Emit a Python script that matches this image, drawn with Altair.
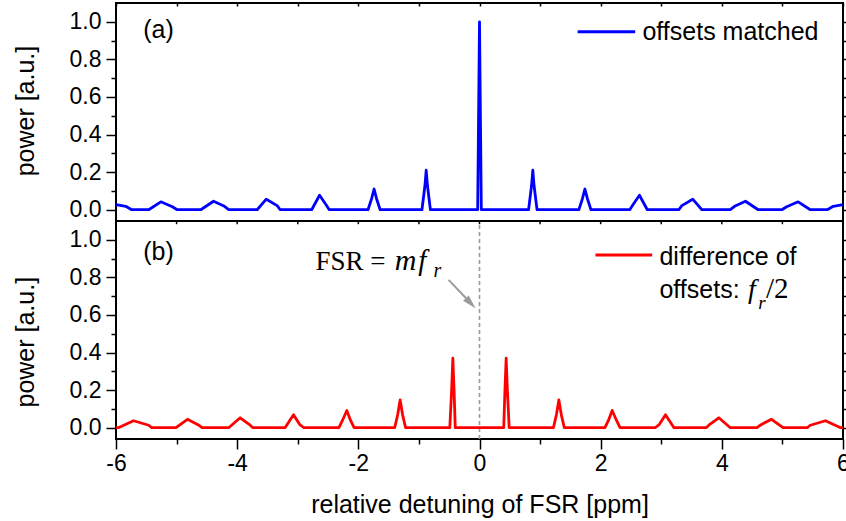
import altair as alt
import pandas as pd

# ---------------- data ----------------
# panel (a): offsets matched
xa = [-6.00, -5.84, -5.74, -5.46, -5.26, -5.07, -4.99, -4.60, -4.39, -4.22, -4.14,
      -3.67, -3.52, -3.34, -3.29, -2.77, -2.64, -2.53, -2.48, -1.84, -1.78, -1.74,
      -1.70, -1.64, -0.95, -0.90, -0.88, -0.86, -0.81, -0.03, 0.00,
      0.03, 0.81, 0.86, 0.88, 0.90, 0.95, 1.64, 1.70, 1.74, 1.78, 1.84,
      2.48, 2.53, 2.64, 2.77, 3.29, 3.34, 3.52, 3.67, 4.14, 4.22, 4.39,
      4.60, 4.99, 5.07, 5.26, 5.46, 5.74, 5.84, 6.00]
ya = [0.027, 0.018, 0.0, 0.0, 0.042, 0.016, 0.0, 0.0, 0.045, 0.020, 0.0,
      0.0, 0.056, 0.022, 0.0, 0.0, 0.077, 0.025, 0.0, 0.0, 0.06, 0.11,
      0.06, 0.0, 0.0, 0.13, 0.21, 0.13, 0.0, 0.0, 1.00,
      0.0, 0.0, 0.13, 0.21, 0.13, 0.0, 0.0, 0.06, 0.11, 0.06, 0.0,
      0.0, 0.025, 0.077, 0.0, 0.0, 0.022, 0.056, 0.0, 0.0, 0.020, 0.045,
      0.0, 0.0, 0.016, 0.042, 0.0, 0.0, 0.018, 0.027]

# panel (b): difference of offsets f_r/2
xb = [-6.00, -5.96, -5.71, -5.46, -5.41, -5.01, -4.82, -4.64, -4.58, -4.14, -3.95,
      -3.79, -3.74, -3.21, -3.07, -2.97, -2.90, -2.32, -2.26, -2.19, -2.13, -2.07,
      -1.40, -1.35, -1.31, -1.27, -1.22, -0.49, -0.46, -0.44, -0.42, -0.40,
      0.40, 0.42, 0.44, 0.46, 0.49, 1.22, 1.27, 1.31, 1.35, 1.40,
      2.07, 2.13, 2.19, 2.26, 2.32, 2.90, 2.97, 3.07, 3.21, 3.74,
      3.79, 3.95, 4.14, 4.58, 4.64, 4.82, 5.01, 5.41, 5.46, 5.71, 5.96, 6.00]
yb = [0.0, 0.0, 0.037, 0.013, 0.0, 0.0, 0.045, 0.015, 0.0, 0.0, 0.053,
      0.015, 0.0, 0.0, 0.069, 0.018, 0.0, 0.0, 0.04, 0.092, 0.04, 0.0,
      0.0, 0.07, 0.148, 0.07, 0.0, 0.0, 0.20, 0.37, 0.20, 0.0,
      0.0, 0.20, 0.37, 0.20, 0.0, 0.0, 0.07, 0.148, 0.07, 0.0,
      0.0, 0.04, 0.092, 0.04, 0.0, 0.0, 0.018, 0.069, 0.0, 0.0,
      0.015, 0.053, 0.0, 0.0, 0.015, 0.045, 0.0, 0.0, 0.013, 0.037, 0.0, 0.0]

x_ticks = list(range(-6, 7))
y_ticks = [i / 10 for i in range(11)]

legend_a = "offsets matched"
legend_b1 = "difference of"
legend_b2 = "offsets: "
x_title = "relative detuning of FSR [ppm]"
y_title = "power [a.u.]"

# ---------------- layout / styling ----------------
FONT = "Liberation Sans"
SERIF = "Liberation Serif"
BLUE = "#0000ff"
RED = "#ff0000"
GREY = "#9a9a9a"

Y_LO, Y_HI = -0.06, 1.10          # each panel's own y range
OFF = Y_HI - Y_LO                 # panel (a) is stacked above panel (b)

xs = alt.Scale(domain=[-6, 6], nice=False, zero=False)
ys = alt.Scale(domain=[Y_LO, Y_HI + OFF], nice=False, zero=False)

all_y_ticks = y_ticks + [v + OFF for v in y_ticks]
local = f"(datum.value > {Y_HI - 0.005} ? datum.value - {OFF} : datum.value)"
y_major = f"round({local}*10) % 2 == 0"
x_major = "datum.value % 2 == 0"

left_axis = alt.Axis(
    title=None, values=all_y_ticks, orient="left",
    labelExpr=f"{y_major} ? format({local}, '.1f') : ''",
    tickSize={"condition": {"test": y_major, "value": 10}, "value": 5},
    domain=False, grid=False, labelOverlap=False,
    labelFont=FONT, labelFontSize=23, labelColor="black", labelPadding=5,
    tickColor="black", tickWidth=1.5)

right_axis = alt.Axis(title=None, values=all_y_ticks, orient="right", labels=False,
                      tickSize=4, domain=False, grid=False,
                      tickColor="black", tickWidth=1.5)

top_axis = alt.Axis(title=None, values=x_ticks, orient="top", labels=False,
                    tickSize=3, offset=-3, domain=False, grid=False,
                    tickColor="black", tickWidth=1.5)

bottom_axis = alt.Axis(
    title=x_title, values=x_ticks, orient="bottom",
    labelExpr=f"{x_major} ? toString(datum.value) : ''",
    tickSize={"condition": {"test": x_major, "value": 10}, "value": 5},
    domain=False, grid=False, labelOverlap=False, labelFlush=False,
    labelFont=FONT, labelFontSize=23, labelColor="black", labelPadding=3,
    titleFont=FONT, titleFontSize=25, titleFontWeight="normal", titleColor="black",
    titlePadding=17, tickColor="black", tickWidth=1.5)


def place(chart, top, xaxis=None, yaxis=None):
    """Encode x/y; charts of the upper panel are shifted up by one panel height."""
    if top:
        chart = chart.transform_calculate(yp=f"datum.y + {OFF}")
    else:
        chart = chart.transform_calculate(yp="datum.y")
    return chart.encode(x=alt.X("x:Q", scale=xs, axis=xaxis),
                        y=alt.Y("yp:Q", scale=ys, axis=yaxis))


def texts(top, xv, yv, tv, **kw):
    df = pd.DataFrame({"x": xv, "y": yv, "t": tv})
    base = dict(align="left", baseline="alphabetic", color="black")
    base.update(kw)
    return place(alt.Chart(df).mark_text(**base), top).encode(text="t:N")


def legend_line(top, x1, x2, y, color):
    df = pd.DataFrame({"x": [x1], "x2": [x2], "y": [y]})
    return place(alt.Chart(df).mark_rule(color=color, strokeWidth=2.8), top).encode(x2="x2:Q")


# frame helper layer carrying the top and right axes
frame = place(alt.Chart(pd.DataFrame({"x": xb, "y": yb})).mark_point(opacity=0),
              False, top_axis, right_axis)

# ---------------- panel (a) ----------------
line_a = place(alt.Chart(pd.DataFrame({"x": xa, "y": ya})).mark_line(
    color=BLUE, strokeWidth=2.8, strokeJoin="round"), True)

# ---------------- panel (b) ----------------
line_b = place(alt.Chart(pd.DataFrame({"x": xb, "y": yb})).mark_line(
    color=RED, strokeWidth=2.8, strokeJoin="round"), False, bottom_axis, left_axis)

# boundary between the panels, with the small inward ticks of panel (b)
boundary = place(alt.Chart(pd.DataFrame({"x": [-6], "x2": [6], "y": [Y_HI]})).mark_rule(
    color="black", strokeWidth=2), False).encode(x2="x2:Q")
inner_ticks = alt.Chart(pd.DataFrame({"x": x_ticks})).transform_calculate(
    yp=f"{Y_HI}", yp2=f"{Y_HI - 0.017}").mark_rule(color="black", strokeWidth=1.5).encode(
    x=alt.X("x:Q", scale=xs, axis=None),
    y=alt.Y("yp:Q", scale=ys, axis=None), y2="yp2:Q")

vline = alt.Chart(pd.DataFrame({"x": [0.0]})).transform_calculate(
    yp=f"{Y_LO}", yp2=f"{Y_HI}").mark_rule(
    color=GREY, strokeWidth=1.6, strokeDash=[4, 3]).encode(
    x=alt.X("x:Q", scale=xs, axis=None),
    y=alt.Y("yp:Q", scale=ys, axis=None), y2="yp2:Q")

arrow_line = place(alt.Chart(pd.DataFrame({"x": [-0.51, -0.15], "y": [0.787, 0.665]})).mark_line(
    color=GREY, strokeWidth=2), False)
arrow_head = place(alt.Chart(pd.DataFrame({"x": [-0.145], "y": [0.663]})).mark_point(
    shape="M0,-1L0.55,1L-0.55,1Z", filled=True, color=GREY, opacity=1,
    size=196, angle=136.7), False)

# y-axis titles (one per panel), drawn outside the plot on the left
ytitles = texts(False, [-7.49, -7.49], [1.685, 0.455], [y_title, y_title],
                font=FONT, fontSize=25, angle=270, align="center", baseline="middle")

chart = alt.layer(
    frame,
    vline,
    line_a,
    line_b,
    boundary,
    inner_ticks,
    arrow_line,
    arrow_head,
    legend_line(True, 1.62, 2.57, 0.947, BLUE),
    texts(True, [2.69], [0.904], [legend_a], font=FONT, fontSize=25),
    texts(True, [-5.55], [0.912], ["(a)"], font=FONT, fontSize=25),
    legend_line(False, 1.914, 2.85, 0.919, RED),
    texts(False, [2.97, 2.97], [0.867, 0.689], [legend_b1, legend_b2], font=FONT, fontSize=25),
    texts(False, [4.43], [0.689], ["f"], font=SERIF, fontSize=28, fontStyle="italic"),
    texts(False, [4.60], [0.630], ["r"], font=SERIF, fontSize=19, fontStyle="italic"),
    texts(False, [4.73], [0.689], ["/2"], font=SERIF, fontSize=29),
    texts(False, [-2.706], [0.840], ["FSR ="], font=SERIF, fontSize=27),
    texts(False, [-1.40], [0.840], ["m"], font=SERIF, fontSize=30, fontStyle="italic"),
    texts(False, [-1.01], [0.840], ["f"], font=SERIF, fontSize=29, fontStyle="italic"),
    texts(False, [-0.76], [0.803], ["r"], font=SERIF, fontSize=20, fontStyle="italic"),
    texts(False, [-5.55], [0.892], ["(b)"], font=FONT, fontSize=25),
    ytitles,
).resolve_axis(x="independent", y="independent").properties(
    width=727, height=436,
    autosize=alt.AutoSizeParams(type="none"),
    padding={"left": 116, "top": 3, "right": 3, "bottom": 82},
    background="white",
).configure_view(stroke="black", strokeWidth=2)

chart.save("out.html", embed_options={"renderer": "svg", "actions": False})
